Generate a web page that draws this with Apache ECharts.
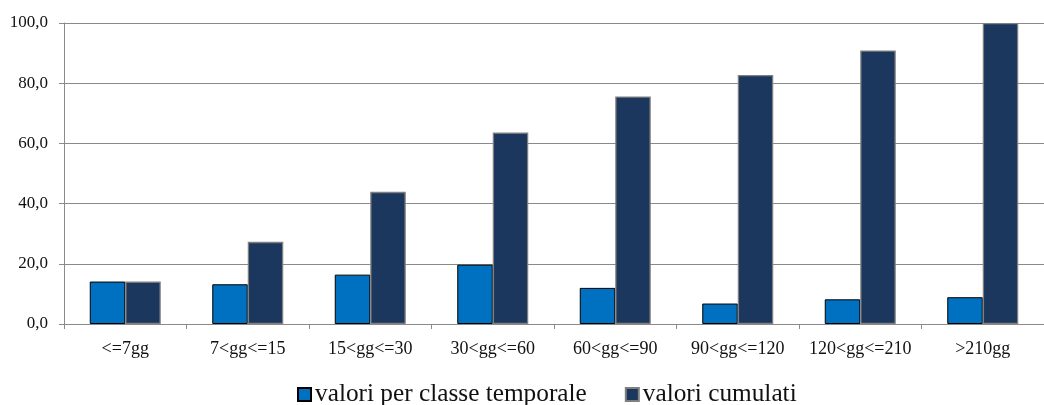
<!DOCTYPE html>
<html>
<head>
<meta charset="utf-8">
<script src="https://cdn.jsdelivr.net/npm/echarts@6/dist/echarts.min.js"></script>
<style>
  html, body { margin: 0; padding: 0; background: #ffffff; }
  #chart { width: 1044px; height: 405px; }
</style>
</head>
<body>
<div id="chart"></div>
<script>
// Time classes (days)
var categories = ['<=7gg', '7<gg<=15', '15<gg<=30', '30<gg<=60', '60<gg<=90', '90<gg<=120', '120<gg<=210', '>210gg'];
// Share per time class (%)
var perClass = [14.1, 13.2, 16.4, 19.7, 12.0, 6.8, 8.2, 8.9];
// Cumulative share (%)
var cumulative = [14.1, 27.3, 43.9, 63.6, 75.6, 82.7, 90.9, 100.0];
var seriesNames = ['valori per classe temporale', 'valori cumulati'];
var yTicks = { min: 0, max: 100, interval: 20 };

var FONT = "'Liberation Serif', 'DejaVu Serif', serif";
var GRID_GRAY = '#8a8a8a';

var chart = echarts.init(document.getElementById('chart'), null, { renderer: 'canvas' });

chart.setOption({
  backgroundColor: '#ffffff',
  animation: false,
  grid: { left: 64, top: 23, width: 994.5, height: 301, containLabel: false },
  legend: {
    left: 292,
    top: 377,
    icon: 'rect',
    itemWidth: 13,
    itemHeight: 13,
    itemGap: 38,
    textStyle: { fontFamily: FONT, fontSize: 25.3, color: '#111111', padding: [0, 0, 0, -1] },
    data: seriesNames
  },
  xAxis: {
    type: 'category',
    data: categories,
    axisLine: { lineStyle: { color: GRID_GRAY, width: 1 } },
    axisTick: { show: true, alignWithLabel: false, length: 5, lineStyle: { color: GRID_GRAY } },
    axisLabel: { fontFamily: FONT, fontSize: 18, color: '#111111', margin: 16, interval: 0 },
    splitLine: { show: false }
  },
  yAxis: {
    type: 'value',
    min: yTicks.min,
    max: yTicks.max,
    interval: yTicks.interval,
    axisLine: { show: true, lineStyle: { color: GRID_GRAY, width: 1 } },
    axisTick: { show: true, length: 5, lineStyle: { color: GRID_GRAY } },
    axisLabel: {
      fontFamily: FONT, fontSize: 17, color: '#111111', margin: 16,
      formatter: function (v) { return v.toFixed(1).replace('.', ','); }
    },
    splitLine: { show: true, lineStyle: { color: GRID_GRAY, width: 1 } }
  },
  series: [
    {
      name: seriesNames[0],
      type: 'bar',
      data: perClass,
      barWidth: 35.5,
      barGap: '0%',
      itemStyle: { color: '#0070C0', borderColor: '#000000', borderWidth: 1 }
    },
    {
      name: seriesNames[1],
      type: 'bar',
      data: cumulative,
      barWidth: 35.5,
      barGap: '0%',
      itemStyle: { color: '#1B375E', borderColor: '#7f7f7f', borderWidth: 1.3 }
    }
  ]
});
</script>
</body>
</html>
